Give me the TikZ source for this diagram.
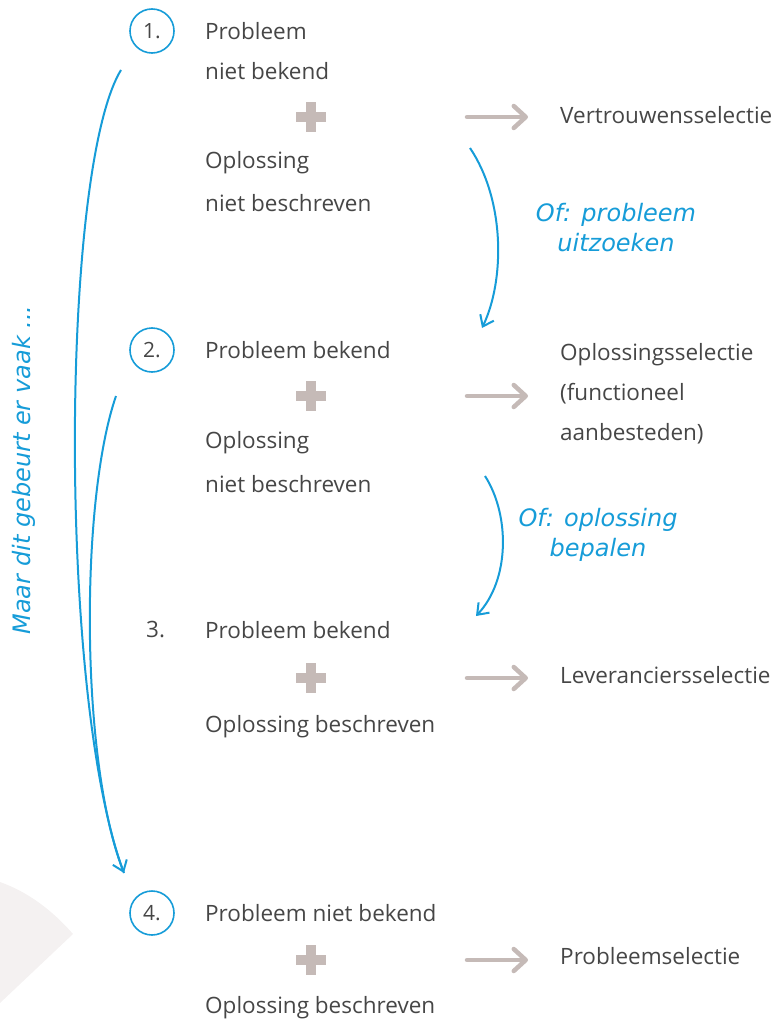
\documentclass[tikz,border=0pt]{standalone}
\usepackage{fontspec}
\setmainfont{Open Sans}
\newfontfamily\handfont{DejaVu Sans}
\usetikzlibrary{arrows.meta}
\definecolor{txtgray}{RGB}{70,70,70}
\definecolor{plusgray}{RGB}{197,186,183}
\definecolor{handblue}{RGB}{22,156,216}
\definecolor{shadegray}{RGB}{244,241,241}

\begin{document}
\begin{tikzpicture}[x=1pt,y=-1pt]
\tikzstyle{txt}=[anchor=west, text=txtgray, inner sep=0, font=\fontsize{22.5}{27}\selectfont]
\tikzstyle{num}=[circle, draw=handblue, line width=1.6pt, minimum size=44pt, inner sep=0, text=txtgray, font=\fontsize{21}{25}\selectfont]
\tikzstyle{hand}=[text=handblue, align=center, font=\handfont\itshape\fontsize{24}{30}\selectfont]
\tikzstyle{bluearr}=[draw=handblue, line width=2pt, -{Straight Barb[length=10pt,width=15pt,line width=2pt]}]
\tikzstyle{grayarr}=[draw=plusgray, line width=4.5pt, line cap=round, -{Straight Barb[length=12pt,width=22pt,line width=4.5pt,round]}]

\useasboundingbox (0,0) rectangle (781,1022);
\fill[shadegray] (0,882) .. controls (28,892) and (52,910) .. (73,934) -- (0,1003) -- cycle;

% step 1
\node[num] (n1) at (152,31) {1.};
\node[txt] (p1a) at (205,31) {Probleem};
\node[txt] (p1b) at (205,71) {niet bekend};
\node[txt] (o1a) at (205,163) {Oplossing};
\node[txt] (o1b) at (205,203) {niet beschreven};
\node[txt] (s1) at (560,115) {Vertrouwensselectie};

% step 2
\node[num] (n2) at (152,350) {2.};
\node[txt] (p2) at (205,350) {Probleem bekend};
\node[txt] (o2a) at (205,443) {Oplossing};
\node[txt] (o2b) at (205,484) {niet beschreven};
\node[txt, align=left, font=\fontsize{22.5}{40}\selectfont] (s2) at (560,394) {Oplossingsselectie\\(functioneel\\aanbesteden)};

% step 3
\node[txt] (n3) at (146,630) {3.};
\node[txt] (p3) at (205,630) {Probleem bekend};
\node[txt] (o3) at (205,727) {Oplossing beschreven};
\node[txt] (s3) at (560,675) {Leveranciersselectie};

% step 4
\node[num] (n4) at (152,913) {4.};
\node[txt] (p4) at (205,913) {Probleem niet bekend};
\node[txt] (o4) at (205,1008) {Oplossing beschreven};
\node[txt] (s4) at (560,956) {Probleemselectie};

% plus signs and arrows
\foreach \y/\i in {117/1,396/2,678/3,960/4}{
  \fill[plusgray] (296,\y-5) rectangle (326,\y+5);
  \fill[plusgray] (306,\y-15) rectangle (316,\y+15);
  \coordinate (a\i) at (467,\y);
  \coordinate (b\i) at (528,\y);
  \draw[grayarr] (a\i) -- (b\i);
}

% blue hand arrows
\coordinate (c1) at (470,148);
\coordinate (c2) at (482,328);
\draw[bluearr] (c1) .. controls (505,200) and (505,280) .. (c2);
\node[hand] (h1) at (616,228) {Of: probleem\\uitzoeken};

\coordinate (c3) at (485,476);
\coordinate (c4) at (476,616);
\draw[bluearr] (c3) .. controls (510,515) and (510,580) .. (c4);
\node[hand] (h2) at (598,535) {Of: oplossing\\bepalen};

\coordinate (d1) at (121,70);
\coordinate (d2) at (116,396);
\coordinate (d4) at (124,873);
\draw[draw=handblue, line width=2pt] (d1) .. controls (60,170) and (58,700) .. (d4);
\draw[bluearr] (d2) .. controls (80,500) and (80,760) .. (d4);

\node[hand, rotate=90] (m) at (24,470) {Maar dit gebeurt er vaak ...};
\end{tikzpicture}
\end{document}
